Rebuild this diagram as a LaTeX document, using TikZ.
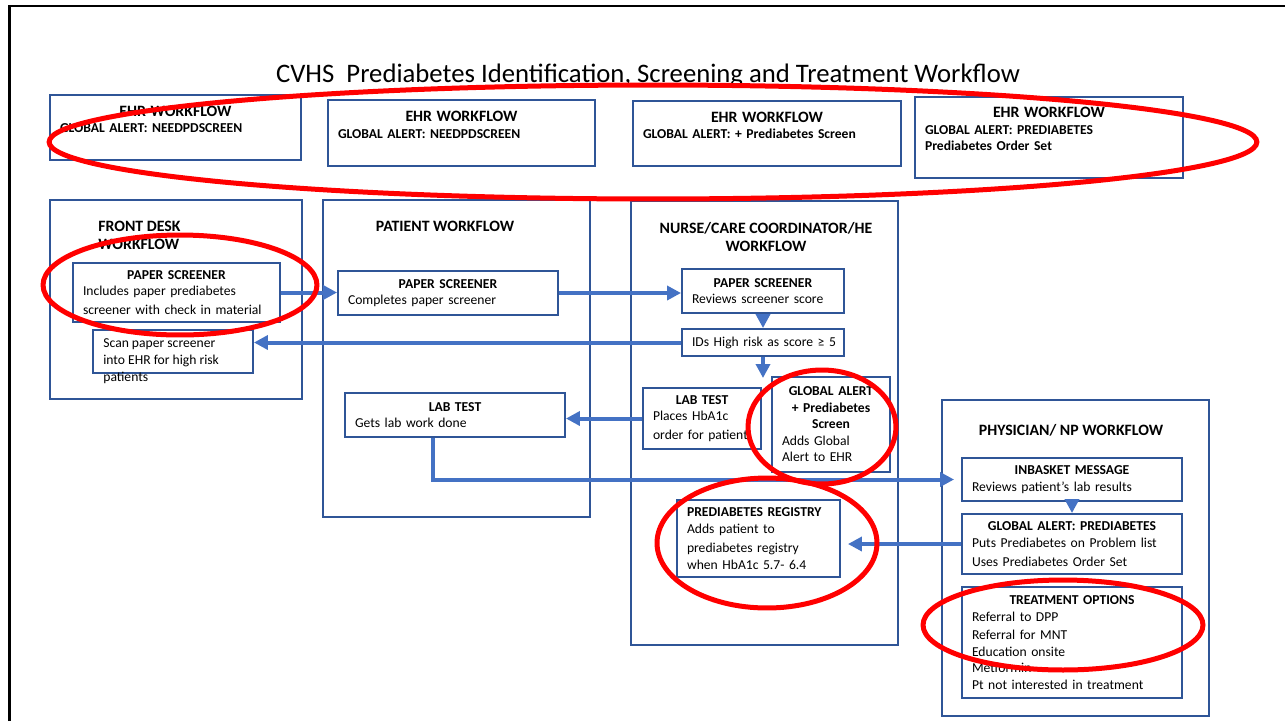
\documentclass[tikz,border=0pt]{standalone}
\usepackage{fontspec}
\setmainfont{Carlito}
\usetikzlibrary{arrows.meta}

\definecolor{boxblue}{RGB}{47,85,151}
\definecolor{linkblue}{RGB}{68,114,196}
\newcommand\hd[1]{{\centering\bfseries #1\par}}
\newcommand\ehrhd[1]{{\centering\bfseries\fontsize{9}{10}\selectfont #1\par}}

\begin{document}
\begin{tikzpicture}[
    x=0.02cm, y=-0.02cm,
    panel/.style={rectangle, draw=boxblue, line width=1.1pt},
    box/.style={rectangle, draw=boxblue, line width=1.1pt, fill=white, inner xsep=0.2cm, inner ysep=0pt, align=left, font=\fontsize{7.75}{9.4}\selectfont},
    txt/.style={inner sep=0pt, align=left, font=\fontsize{7.75}{9.6}\selectfont},
    lanetitle/.style={inner sep=0pt, align=left, font=\bfseries\fontsize{9}{10.2}\selectfont},
    arrow/.style={-{Triangle[length=0.28cm, width=0.28cm]}, draw=linkblue, line width=0.08cm},
    ring/.style={draw=red, line width=0.1cm}
]
\useasboundingbox (0,0) rectangle (1285,721);
\draw[line width=0.05cm] (9.5,721) -- (9.5,6) -- (1285,6);

\node[font=\fontsize{15.2}{18}\selectfont, inner sep=0pt, anchor=base] (maintitle) at (648,82) {CVHS\ \ Prediabetes Identification, Screening and Treatment Workflow};

% EHR row
\node[box, minimum height=1.30cm, text width=4.62cm] (ehrdesk) at (175.5,127.5) {\ehrhd{EHR WORKFLOW}\textbf{GLOBAL ALERT: NEEDPDSCREEN}\\ \mbox{}};
\node[box, minimum height=1.32cm, text width=4.94cm] (ehrpatient) at (461.5,133) {\ehrhd{EHR WORKFLOW}\textbf{GLOBAL ALERT: NEEDPDSCREEN}\\ \mbox{}};
\node[box, minimum height=1.30cm, text width=4.96cm] (ehrnurse) at (767,133.5) {\ehrhd{EHR WORKFLOW}\textbf{GLOBAL ALERT: + Prediabetes Screen}\\ \mbox{}};
\node[box, minimum height=1.62cm, text width=4.96cm] (ehrphysician) at (1049,137.5) {\ehrhd{EHR WORKFLOW}\textbf{GLOBAL ALERT: PREDIABETES}\\\textbf{Prediabetes Order Set}\\ \mbox{}};

% lanes
\node[panel, minimum width=5.04cm, minimum height=3.98cm] (desk) at (176,299.5) {};
\node[panel, minimum width=5.34cm, minimum height=6.34cm] (patient) at (456.5,358.5) {};
\node[panel, minimum width=5.34cm, minimum height=8.88cm] (nurse) at (764.5,423) {};
\node[panel, minimum width=5.34cm, minimum height=6.32cm] (physician) at (1075.5,558) {};

\node[lanetitle, anchor=base west] (desktitle) at (98,249) {FRONT DESK\\WORKFLOW};
\node[lanetitle, anchor=base] (patienttitle) at (445,231) {PATIENT WORKFLOW};
\node[lanetitle, anchor=base, align=center] (nursetitle) at (766,251) {NURSE/CARE COORDINATOR/HE\\WORKFLOW};
\node[lanetitle, anchor=base] (physiciantitle) at (1071,435) {PHYSICIAN/ NP WORKFLOW};

% front desk
\node[box, minimum height=1.18cm, text width=3.74cm] (deskscreener) at (176.5,292.5) {\hd{PAPER SCREENER}Includes paper prediabetes\\[1.5pt]screener with check in material};
\node[box, minimum width=3.20cm, minimum height=0.86cm] (deskscan) at (173,351.5) {};
\node[txt, anchor=base west] (scantext) at (103,381) {Scan paper screener\\into EHR for high risk\\patients};

% patient
\node[box, minimum height=0.88cm, text width=4.00cm] (patientscreener) at (448,293) {\hd{PAPER SCREENER}Completes paper screener};
\node[box, minimum height=0.88cm, text width=4.00cm] (patientlab) at (455,415) {\hd{LAB TEST}Gets lab work done};

% nurse / care coordinator
\node[box, minimum height=0.88cm, text width=2.84cm] (nursescreener) at (763,291) {\hd{PAPER SCREENER}Reviews screener score};
\node[box, minimum height=0.54cm, text width=2.84cm] (highrisk) at (763,342.5) {\mbox{IDs High risk as score ≥ 5}};
\node[box, minimum height=1.22cm, text width=1.96cm] (nurselab) at (702,418.5) {\hd{LAB TEST}Places HbA1c\\[1pt]\mbox{order for patient}};
\node[box, minimum height=1.90cm, text width=1.96cm] (nursealert) at (831,424.5) {\hd{GLOBAL ALERT\\+ Prediabetes\\Screen}Adds Global\\Alert to EHR};
\node[box, minimum height=1.54cm, text width=2.86cm] (registry) at (758.5,538.5) {\textbf{PREDIABETES REGISTRY}\\Adds patient to\\[1.5pt]prediabetes registry\\when HbA1c 5.7- 6.4};
\coordinate (riskdrop) at (763,378);

% physician / NP
\node[box, minimum height=0.86cm, text width=4.00cm] (inbasket) at (1072,479.5) {\hd{INBASKET MESSAGE}Reviews patient’s lab results};
\node[box, minimum height=1.20cm, text width=4.00cm] (physalert) at (1072,544) {\hd{GLOBAL ALERT: PREDIABETES}Puts Prediabetes on Problem list\\[1.5pt]Uses Prediabetes Order Set};
\node[box, minimum height=2.22cm, text width=4.00cm] (treatment) at (1072,642.5) {\hd{TREATMENT OPTIONS}Referral to DPP\\[1pt]Referral for MNT\\Education onsite\\Metformin\\Pt not interested in treatment};

\draw[arrow] (deskscreener.east) -- (deskscreener.east -| patientscreener.west);
\draw[arrow] (patientscreener.east) -- (patientscreener.east -| nursescreener.west);
\draw[arrow] (nursescreener) -- (highrisk);
\draw[arrow] (highrisk.west) -- (highrisk.west -| deskscan.east);
\draw[arrow] (highrisk) -- (riskdrop);
\draw[arrow] (nurselab.west) -- (nurselab.west -| patientlab.east);
\draw[arrow] ([xshift=-0.44cm]patientlab.south) |- ([xshift=-0.14cm]inbasket.west);
\draw[arrow] (inbasket) -- (physalert);
\draw[arrow] (physalert.west) -- ([xshift=0.14cm]physalert.west -| registry.east);

% red rings
\draw[ring] (653,142) ellipse [x radius=12.08cm, y radius=1.14cm];
\draw[ring] (180,285) ellipse [x radius=2.74cm, y radius=1.0cm];
\draw[ring] (822,427) ellipse [x radius=1.48cm, y radius=1.14cm];
\draw[ring] (767,543) ellipse [x radius=2.2cm, y radius=1.3cm];
\draw[ring] (1063,625) ellipse [x radius=2.8cm, y radius=0.9cm];
\end{tikzpicture}
\end{document}
